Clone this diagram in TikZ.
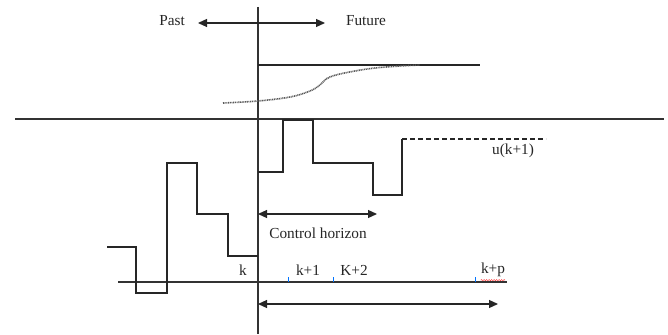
\documentclass[tikz,border=0pt]{standalone}
\usepackage{fontspec}
\setmainfont{Liberation Serif}
\usetikzlibrary{positioning, arrows.meta, calc, decorations.pathmorphing}

\begin{document}
\begin{tikzpicture}[x=1pt, y=-1pt,
  every node/.style={font=\fontsize{15.3}{17}\selectfont, inner sep=0pt, text=black!85},
  axisline/.style={line width=1.1pt, draw=black!80},
  sig/.style={line width=1.1pt, draw=black!85},
  harr/.style={{Triangle[length=9pt,width=8pt]}-{Triangle[length=9pt,width=8pt]}, line width=1.2pt, black!85},
  tickmark/.style={draw=blue!55!cyan, line width=0.9pt},
  pred/.style={dash pattern=on 1pt off 0.7pt, line width=1.6pt, draw=black!65}
]
\useasboundingbox (0,0) rectangle (668,334);

% ---- Main axes ----
\draw[axisline] (258,7) coordinate (nowtop) -- (258,334) coordinate (nowbot);
\draw[line width=2.2pt, black!80] (15,119) coordinate (sepl) -- (664,119) coordinate (sepr);
\draw[axisline] (118,282) coordinate (tl) -- (507,282) coordinate (tr);

% ---- Past / Future ----
\node (past) at (172,21) {Past};
\node (future) at (366,21) {Future};
\coordinate (pastend) at (198,23);
\coordinate (futend) at (325,23);
\draw[harr] (pastend) -- (futend);

% ---- Reference and predicted output ----
\draw[sig] (258,65) coordinate (refl) -- (480,65) coordinate (refr);
\draw[pred] plot[smooth, tension=0.6] coordinates {
  (223,103) (258,101) (290,97) (310,91) (320,85) (326,79)
  (336,75) (355,71) (375,68) (400,66) (420,65)};

% ---- Control signal, past ----
\draw[sig] (107,247) -- (136,247) -- (136,293) -- (167,293) -- (167,163)
  -- (197,163) -- (197,214) -- (228,214) -- (228,256) -- (258,256);

% ---- Control signal, future ----
\draw[sig] (258,172) -- (283,172) -- (283,120) -- (313,120) -- (313,163)
  -- (373,163) -- (373,195) -- (402,195) -- (402,139) coordinate (ulast);
\draw[sig, dashed, dash pattern=on 5pt off 3pt] (ulast) -- (546,139);
\node (ulabel) at (513,151) {u(k+1)};

% ---- Control horizon ----
\coordinate (chl) at (258,214);
\coordinate (chr) at (377,214);
\draw[harr] (chl) -- (chr);
\node (chlabel) at (318,233) {Control horizon};

% ---- Time steps ----
\node (k) at (243,270) {k};
\node (k1) at (308,270) {k+1};
\node (k2) at (354,270) {K+2};
\node (kp) at (493,270) {k+p};
\draw[red!85, line width=0.5pt, decorate,
  decoration={snake, amplitude=0.6pt, segment length=2.5pt}]
  ($(kp.south west)+(0,3)$) -- ($(kp.south east)+(0,3)$);
\foreach \tx in {288,333,475}
  \draw[tickmark] (\tx,282) -- (\tx,277);

% ---- Prediction horizon ----
\coordinate (phl) at (258,304);
\coordinate (phr) at (498,304);
\draw[harr] (phl) -- (phr);

\end{tikzpicture}
\end{document}
